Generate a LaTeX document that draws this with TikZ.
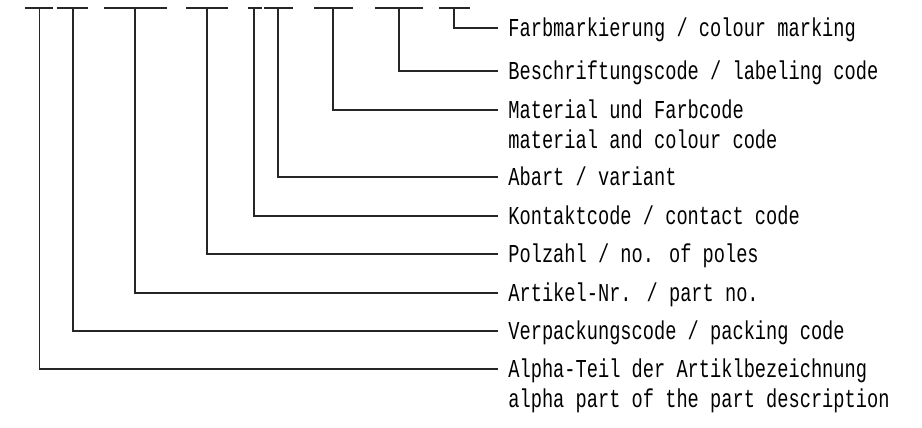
\documentclass[tikz,border=0pt]{standalone}
\usepackage{fontspec}
\usepackage{tikz}
\newfontfamily\isofont[FakeStretch=0.724]{Liberation Mono}
\tikzset{
  lead/.style={line width=0.6pt, black!85},
  lbl/.style={anchor=west, inner sep=0pt, text height=8.5pt, text depth=0pt,
    font=\isofont\fontsize{12.9pt}{15pt}\selectfont}
}

\begin{document}
\begin{tikzpicture}[x=0.5pt, y=-0.5pt]
	\useasboundingbox (0,0) rectangle (922,428);
	% labels
	\node[lbl] (l9) at (508,28) {Farbmarkierung / colour marking};
	\node[lbl] (l8) at (508,71) {Beschriftungscode / labeling code};
	\node[lbl] (l7) at (508,110) {Material und Farbcode};
	\node[lbl] (l7b) at (508,140) {material and colour code};
	\node[lbl] (l6) at (508,177) {Abart / variant};
	\node[lbl] (l5) at (508,216) {Kontaktcode / contact code};
	\node[lbl] (l4) at (508,254) {Polzahl / no. of poles};
	\node[lbl] (l3) at (508,293) {Artikel-Nr. / part no.};
	\node[lbl] (l2) at (508,331) {Verpackungscode / packing code};
	\node[lbl] (l1) at (508,369) {Alpha-Teil der Artiklbezeichnung};
	\node[lbl] (l1b) at (508,399) {alpha part of the part description};
	% character places
	\draw[lead] (25,8) -- (53,8);
	\draw[lead] (57,8) -- (88,8);
	\draw[lead] (104,8) -- (167,8);
	\draw[lead] (186,8) -- (228,8);
	\draw[lead] (248,8) -- (262,8);
	\draw[lead] (264,8) -- (293,8);
	\draw[lead] (314,8) -- (353,8);
	\draw[lead] (375,8) -- (423,8);
	\draw[lead] (439,8) -- (470,8);
	\coordinate (t1) at (39.5,8);
	\coordinate (t2) at (73,8);
	\coordinate (t3) at (135,8);
	\coordinate (t4) at (207,8);
	\coordinate (t5) at (254,8);
	\coordinate (t6) at (278,8);
	\coordinate (t7) at (333,8);
	\coordinate (t8) at (399,8);
	\coordinate (t9) at (454,8);
	% leaders
	\draw[lead] (t1) |- ([xshift=-5pt]l1.west);
	\draw[lead] (t2) |- ([xshift=-5pt]l2.west);
	\draw[lead] (t3) |- ([xshift=-5pt]l3.west);
	\draw[lead] (t4) |- ([xshift=-5pt]l4.west);
	\draw[lead] (t5) |- ([xshift=-5pt]l5.west);
	\draw[lead] (t6) |- ([xshift=-5pt]l6.west);
	\draw[lead] (t7) |- ([xshift=-5pt]l7.west);
	\draw[lead] (t8) |- ([xshift=-5pt]l8.west);
	\draw[lead] (t9) |- ([xshift=-5pt]l9.west);
\end{tikzpicture}
\end{document}
